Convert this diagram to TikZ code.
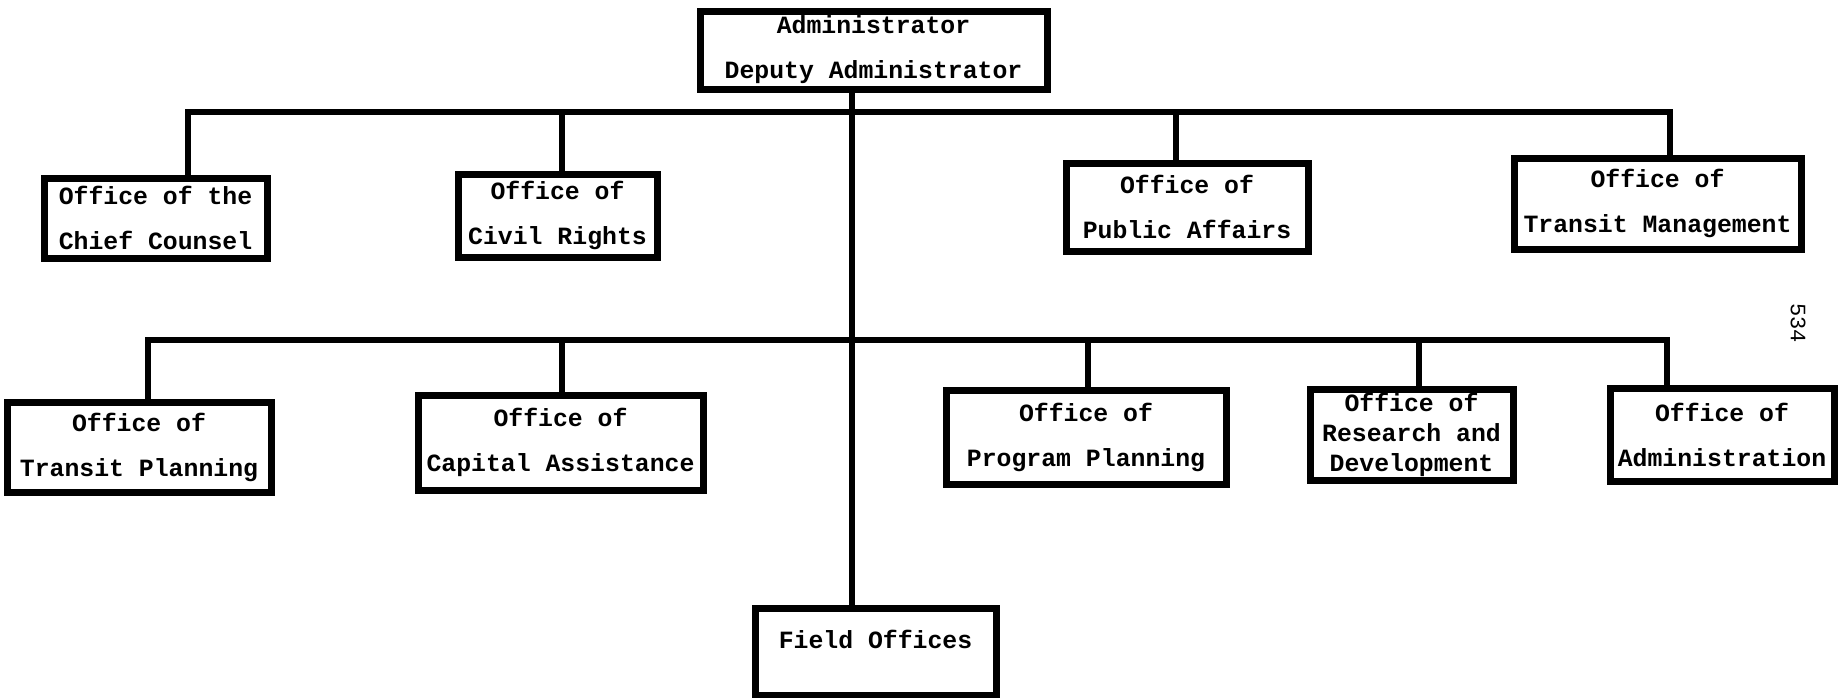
\documentclass[tikz,border=0pt]{standalone}
\usepackage{fontspec}
\setmonofont{Liberation Mono}
\usepackage{tikz}
\tikzstyle{office}=[draw,line width=3.5pt,inner sep=0pt,align=center,font=\ttfamily\bfseries\fontsize{12.4}{22.5}\selectfont]
\tikzstyle{link}=[draw,line width=2.6pt]

\begin{document}
\begin{tikzpicture}[x=0.5pt,y=-0.5pt]
	\useasboundingbox (0,0) rectangle (1842,697);
	% top of the chart
	\node[office,minimum width=173.5pt,minimum height=39pt] (admin) at (873.5,50) {Administrator\\Deputy Administrator};
	
	\node[office,minimum width=111.5pt,minimum height=40pt] (chief) at (155.5,218) {Office of the\\Chief Counsel};
	\node[office,minimum width=99.5pt,minimum height=41.5pt] (civil) at (557.5,215.5) {Office of\\Civil Rights};
	\node[office,minimum width=121pt,minimum height=44pt] (public) at (1187,207) {Office of\\Public Affairs};
	\node[office,minimum width=143.5pt,minimum height=45.5pt] (mgmt) at (1657.5,203.5) {Office of\\Transit Management};
	
	\node[office,minimum width=132pt,minimum height=45pt] (tplan) at (139,447) {Office of\\Transit Planning};
	\node[office,minimum width=142.5pt,minimum height=47.5pt] (capital) at (560.5,442.5) {Office of\\Capital Assistance};
	\node[office,minimum width=140pt,minimum height=47pt] (program) at (1086,437) {Office of\\Program Planning};
	\node[office,minimum width=101.5pt,minimum height=45.5pt,font=\ttfamily\bfseries\fontsize{12.4}{15}\selectfont] (research) at (1411.5,434.5) {Office of\\Research and\\Development};
	\node[office,minimum width=112pt,minimum height=46.5pt] (adminoff) at (1722,434.5) {Office of\\Administration};
	
	\node[office,minimum width=120.5pt,minimum height=43.5pt] (field) at (875.5,651.5) {\raisebox{12pt}{Field Offices}};
	
	\node[rotate=-90,font=\ttfamily\fontsize{11}{11}\selectfont] (pagenum) at (1798,323) {534};
	
	% bus lines
	\path (852,0) coordinate (t);
	\path (188,112) coordinate (a1);
	\path (562,112) coordinate (a2);
	\path (1176,112) coordinate (a3);
	\path (1670,112) coordinate (a4);
	\path (148,340) coordinate (b1);
	\path (562,340) coordinate (b2);
	\path (1088,340) coordinate (b3);
	\path (1419,340) coordinate (b4);
	\path (1667,340) coordinate (b5);
	
	\path[link] (t |- admin.south) -- (t |- field.north);
	\path[link] (a1 |- chief.north) -- (a1) -- (a4) -- (a4 |- mgmt.north);
	\path[link] (b1 |- tplan.north) -- (b1) -- (b5) -- (b5 |- adminoff.north);
	\foreach \c/\n in {a2/civil, a3/public, b2/capital, b3/program, b4/research}
	\path[link] (\c) -- (\c |- \n.north);
\end{tikzpicture}
\end{document}
